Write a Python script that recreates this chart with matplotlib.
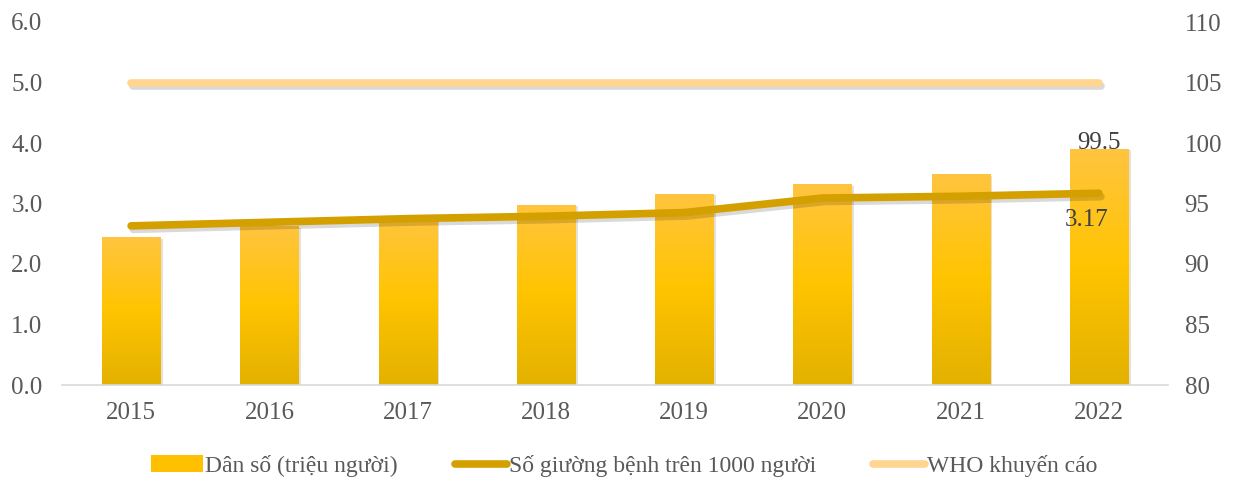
import numpy as np
import matplotlib.pyplot as plt
import matplotlib.patheffects as pe
from matplotlib.colors import LinearSegmentedColormap
from matplotlib.patches import Patch
from matplotlib.lines import Line2D

years = ["2015", "2016", "2017", "2018", "2019", "2020", "2021", "2022"]
population = [92.2, 93.1, 94.0, 94.9, 95.8, 96.6, 97.4, 99.5]
beds = [2.63, 2.69, 2.75, 2.79, 2.85, 3.09, 3.12, 3.17]
who = [5.0] * 8

plt.rcParams['font.family'] = ['Liberation Serif', 'DejaVu Serif']
grey = "#595959"

fig = plt.figure(figsize=(12.34, 4.79), dpi=100)
ax = fig.add_axes([62 / 1234, 1 - 385 / 479, (1168 - 62) / 1234, (385 - 22) / 479])
ax2 = ax.twinx()

x = np.arange(len(years))
bar_shadow = [pe.SimplePatchShadow(offset=(2, -1), alpha=0.15), pe.Normal()]
line_shadow = [pe.SimpleLineShadow(offset=(1.5, -2.5), alpha=0.15), pe.Normal()]

# bars (population) on the right axis, gold gradient
cmap = LinearSegmentedColormap.from_list("gold", ["#E3B100", "#FFC400", "#FFC53F"])
grad = np.linspace(0, 1, 256).reshape(-1, 1)
bars = ax2.bar(x, population, width=0.42, bottom=0, color="#FFC000",
               zorder=1, path_effects=bar_shadow)
for b in bars:
    bx = b.get_x()
    w, h = b.get_width(), b.get_height()
    im = ax2.imshow(grad, cmap=cmap, origin="lower", aspect="auto",
                    extent=[bx, bx + w, 80, h], zorder=1.5)
    im.set_clip_path(b)

ax2.set_ylim(80, 110)
ax2.set_xlim(-0.5, len(years) - 0.5)
ax2.text(x[-1], population[-1] + 0.5, "99.5", ha="center", va="center",
         fontsize=18, color="#404040", zorder=5)

# lines on the left axis, drawn above the bars
ax.set_zorder(ax2.get_zorder() + 1)
ax.patch.set_visible(False)
ax.plot(x, who, color="#FFD591", lw=5.5, solid_capstyle="round",
        path_effects=line_shadow)
ax.plot(x, beds, color="#D4A000", lw=5.5, solid_capstyle="round",
        path_effects=line_shadow)
ax.text(x[-1] - 0.09, beds[-1] - 0.45, "3.17", ha="center", va="center",
        fontsize=18, color="#404040")

ax.set_ylim(0, 6)
ax.set_xlim(-0.5, len(years) - 0.5)
ax.set_yticks(np.arange(0, 6.1, 1))
ax.set_yticklabels([f"{v:.1f}" for v in np.arange(0, 6.1, 1)])
ax.set_xticks(x)
ax.set_xticklabels(years)
ax2.set_yticks(range(80, 111, 5))

for a in (ax, ax2):
    for s in ["top", "left", "right", "bottom"]:
        a.spines[s].set_visible(False)
    a.tick_params(length=0, labelsize=18, colors=grey)
ax.spines["bottom"].set_visible(True)
ax.spines["bottom"].set_color("#D9D9D9")
ax.spines["bottom"].set_linewidth(1.2)
ax.tick_params(axis="y", pad=14)
ax.tick_params(axis="x", pad=12)
ax2.tick_params(axis="y", pad=12)

# legend
handles = [Patch(facecolor="#FFC000", edgecolor="none"),
           Line2D([0], [0], color="#D4A000", lw=5.5, solid_capstyle="round"),
           Line2D([0], [0], color="#FFD591", lw=5.5, solid_capstyle="round")]
labels = ["Dân số (triệu người)", "Số giường bệnh trên 1000 người", "WHO khuyến cáo"]
fig.legend(handles, labels, loc="center", bbox_to_anchor=(0.506, 1 - 466 / 479),
           ncol=3, frameon=False, fontsize=17, labelcolor=grey,
           handlelength=2.2, handletextpad=0.1, columnspacing=2.4)

fig.savefig("out.png", dpi=100)
